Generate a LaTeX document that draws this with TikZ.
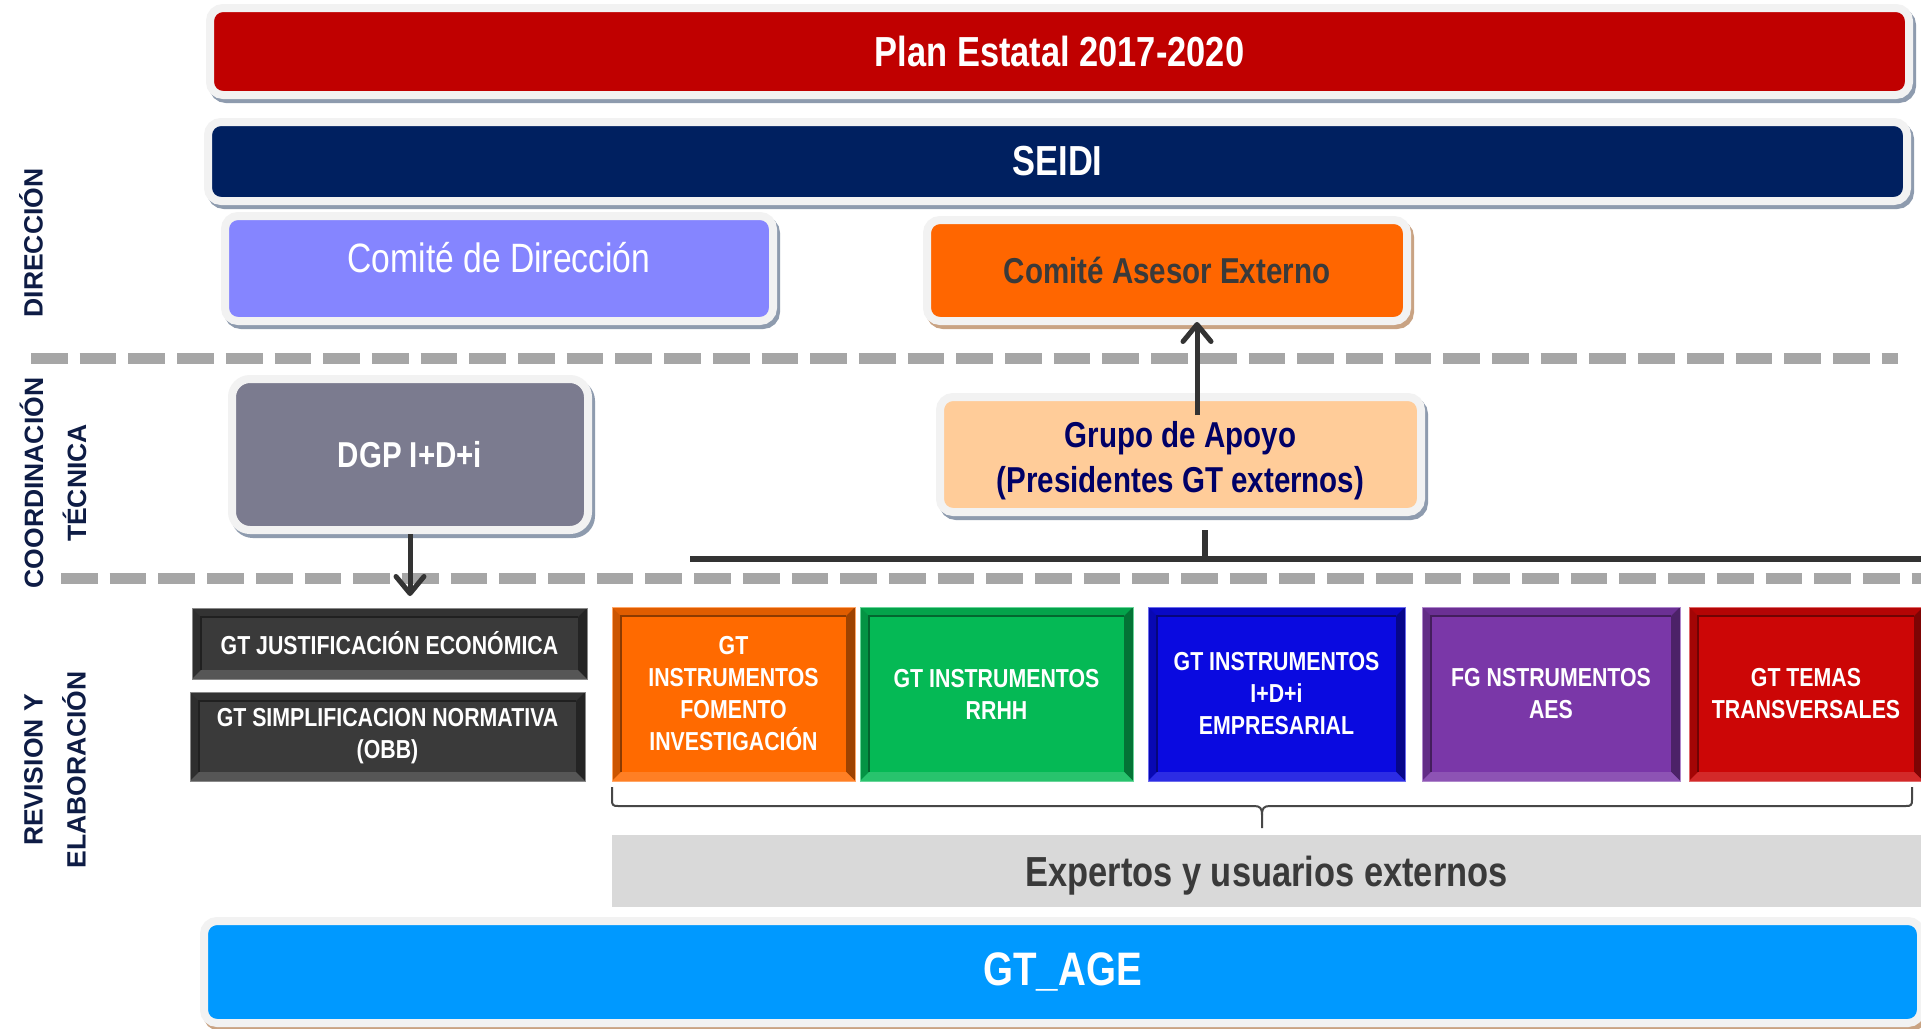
\documentclass[tikz,border=0pt]{standalone}
\usepackage{fontspec}
\setmainfont{Liberation Sans}
\newfontfamily\narrowf{Liberation Sans}[FakeStretch=0.82]
\usetikzlibrary{arrows.meta}
\definecolor{bord}{HTML}{F2F2F2}
\definecolor{shb}{HTML}{8E9BAE}
\definecolor{sht}{HTML}{C9A383}
\definecolor{cplan}{HTML}{C00000}
\definecolor{cseidi}{HTML}{002060}
\definecolor{cdir}{HTML}{8585FF}
\definecolor{casesor}{HTML}{FF6600}
\definecolor{cgrupo}{HTML}{FFCC99}
\definecolor{cgrupotxt}{HTML}{000066}
\definecolor{cdgp}{HTML}{7B7B8F}
\definecolor{cage}{HTML}{0099FF}
\definecolor{cdark}{HTML}{3A3A3A}
\definecolor{corange}{HTML}{FF6A00}
\definecolor{cgreen}{HTML}{05B955}
\definecolor{cblue}{HTML}{0A0AE0}
\definecolor{cpurple}{HTML}{7A37A8}
\definecolor{cred}{HTML}{CC0606}
\definecolor{cexp}{HTML}{D9D9D9}
\definecolor{dashg}{HTML}{A6A6A6}
\definecolor{linec}{HTML}{333333}
\definecolor{navy}{HTML}{0E1C45}
\begin{document}
\begin{tikzpicture}[x=1pt,y=-1pt,
  rbox/.style={draw=bord, line width=8pt, rounded corners=13pt, inner sep=0pt,
    preaction={draw=shb, fill=shb, line width=8pt, transform canvas={shift={(3pt,-4pt)}}}},
  rboxt/.style={draw=bord, line width=8pt, rounded corners=13pt, inner sep=0pt,
    preaction={draw=sht, fill=sht, line width=8pt, transform canvas={shift={(3pt,-4pt)}}}},
  bigtxt/.style={font=\narrowf\bfseries\fontsize{42}{50}\selectfont},
  midtxt/.style={font=\narrowf\bfseries\fontsize{36}{45}\selectfont, align=center},
  gttxt/.style={font=\narrowf\bfseries\fontsize{26}{32}\selectfont, align=center, text=white},
  side/.style={rotate=90, font=\bfseries\fontsize{26.5}{43}\selectfont, text=navy, align=center},
  dashline/.style={draw=dashg, line width=11pt, dash pattern=on 36.7pt off 12pt},
  arr/.style={draw=linec, line width=5pt, -{Straight Barb[length=17pt,width=28pt,round]}},
  treeline/.style={draw=linec, line width=5.5pt},
  brace/.style={draw=linec!90!white, line width=2pt},
  bev/.style={rectangle, fill=#1, draw=#1!60!white, line width=0.8pt, inner sep=4pt, gttxt,
    path picture={
      \fill[#1!88!black] (path picture bounding box.north west) -- (path picture bounding box.north east)
        -- ([shift={(-9pt,-9pt)}]path picture bounding box.north east) -- ([shift={(9pt,-9pt)}]path picture bounding box.north west) -- cycle;
      \fill[#1!80!black] (path picture bounding box.north west) -- (path picture bounding box.south west)
        -- ([shift={(9pt,9pt)}]path picture bounding box.south west) -- ([shift={(9pt,-9pt)}]path picture bounding box.north west) -- cycle;
      \fill[#1!62!black] (path picture bounding box.north east) -- (path picture bounding box.south east)
        -- ([shift={(-9pt,9pt)}]path picture bounding box.south east) -- ([shift={(-9pt,-9pt)}]path picture bounding box.north east) -- cycle;
      \fill[#1!86!white] (path picture bounding box.south west) -- (path picture bounding box.south east)
        -- ([shift={(-9pt,9pt)}]path picture bounding box.south east) -- ([shift={(9pt,9pt)}]path picture bounding box.south west) -- cycle;
      \draw[#1!55!black, line width=1.6pt] ([shift={(9pt,9pt)}]path picture bounding box.south west)
        -- ([shift={(9pt,-9pt)}]path picture bounding box.north west) -- ([shift={(-9pt,-9pt)}]path picture bounding box.north east);
    }},
]
\useasboundingbox (0,0) rectangle (1921,1028);
\fill[white] (0,0) rectangle (1921,1028);

% section separators
\draw[dashline] (31,358.5) -- (1898,358.5);
\draw[dashline] (61,578.5) -- (1921,578.5);

% side labels
\node[side] (ldir) at (31,243) {DIRECCIÓN};
\node[side] (lcoord) at (53,483) {COORDINACIÓN\\TÉCNICA};
\node[side] (lrev) at (55,770) {REVISION Y\\ELABORACIÓN};

% top boxes
\node[rbox, fill=cplan, minimum width=1699pt, minimum height=87pt, text=white, bigtxt] (plan) at (1059.5,51.5) {Plan Estatal 2017-2020};
\node[rbox, fill=cseidi, minimum width=1699pt, minimum height=79pt, text=white, bigtxt] (seidi) at (1057.5,161.5) {SEIDI};
\node[rbox, fill=cdir, minimum width=548pt, minimum height=105pt, text=white, font=\narrowf\fontsize{41}{49}\selectfont] (cdir) at (499,268.5) {\raisebox{-3.5pt}[0pt][0pt]{Comité de Dirección}};
\node[rboxt, fill=casesor, minimum width=480pt, minimum height=101pt, text=cdark, font=\narrowf\bfseries\fontsize{36}{45}\selectfont] (asesor) at (1167,270.5) {Comité Asesor Externo};

% coordination
\node[rbox, fill=cdgp, rounded corners=18pt, minimum width=356pt, minimum height=151pt, text=white, midtxt] (dgp) at (410,454.5) {DGP I+D+i};
\node[rbox, fill=cgrupo, minimum width=481pt, minimum height=115pt,
  label={[midtxt, text=cgrupotxt, yshift=-6pt]center:{Grupo de Apoyo\\(Presidentes GT externos)}}] (grupo) at (1180.5,454.5) {};

% working groups
\node[bev=cdark, minimum width=395pt, minimum height=71pt] (just) at (389.5,643.5) {GT JUSTIFICACIÓN ECONÓMICA};
\node[bev=cdark, minimum width=395pt, minimum height=89pt] (simp) at (387.5,736.5) {GT SIMPLIFICACION NORMATIVA\\(OBB)};
\node[bev=corange, minimum width=243pt, minimum height=174pt] (gfom) at (733.5,694) {GT\\INSTRUMENTOS\\FOMENTO\\INVESTIGACIÓN};
\node[bev=cgreen, minimum width=273pt, minimum height=174pt] (grrhh) at (996.5,694) {GT INSTRUMENTOS\\RRHH};
\node[bev=cblue, minimum width=257pt, minimum height=174pt] (gemp) at (1276.5,694) {GT INSTRUMENTOS\\I+D+i\\EMPRESARIAL};
\node[bev=cpurple, minimum width=258pt, minimum height=174pt] (gaes) at (1551,694) {FG NSTRUMENTOS\\AES};
\node[bev=cred, minimum width=234pt, minimum height=174pt] (gtemas) at (1806,694) {GT TEMAS\\TRANSVERSALES};

% experts
\node[fill=cexp, minimum width=1309pt, minimum height=72pt, inner sep=0pt, text depth=0pt, text=cdark, bigtxt] (exp) at (1266.5,871) {Expertos y usuarios externos};

% GT_AGE
\node[rboxt, fill=cage, minimum width=1717pt, minimum height=102pt, text=white, font=\narrowf\bfseries\fontsize{47}{56}\selectfont] (age) at (1062.5,972) {GT\_AGE};

% connectors
\coordinate (gtail) at (1197,415);
\draw[arr] (gtail) -- ([yshift=3pt]gtail |- asesor.south);
\coordinate (dtip) at (410,596);
\draw[arr] (dgp.south) -- (dtip);
\coordinate (stemtop) at (1205,530);
\coordinate (stembot) at (1205,559);
\coordinate (barl) at (690,559);
\coordinate (barr) at (1921,559);
\draw[treeline] (stemtop) -- (stembot);
\draw[treeline] (barl) -- (barr);

% brace
\draw[brace] (612,787) -- (612,800) .. controls (612,805) and (613,806) .. (618,806) -- (1254,806)
  .. controls (1260,806) and (1262,808) .. (1262,815) -- (1262,828);
\draw[brace] (1912,787) -- (1912,800) .. controls (1912,805) and (1911,806) .. (1906,806) -- (1270,806)
  .. controls (1264,806) and (1262,808) .. (1262,815);
\end{tikzpicture}
\end{document}
